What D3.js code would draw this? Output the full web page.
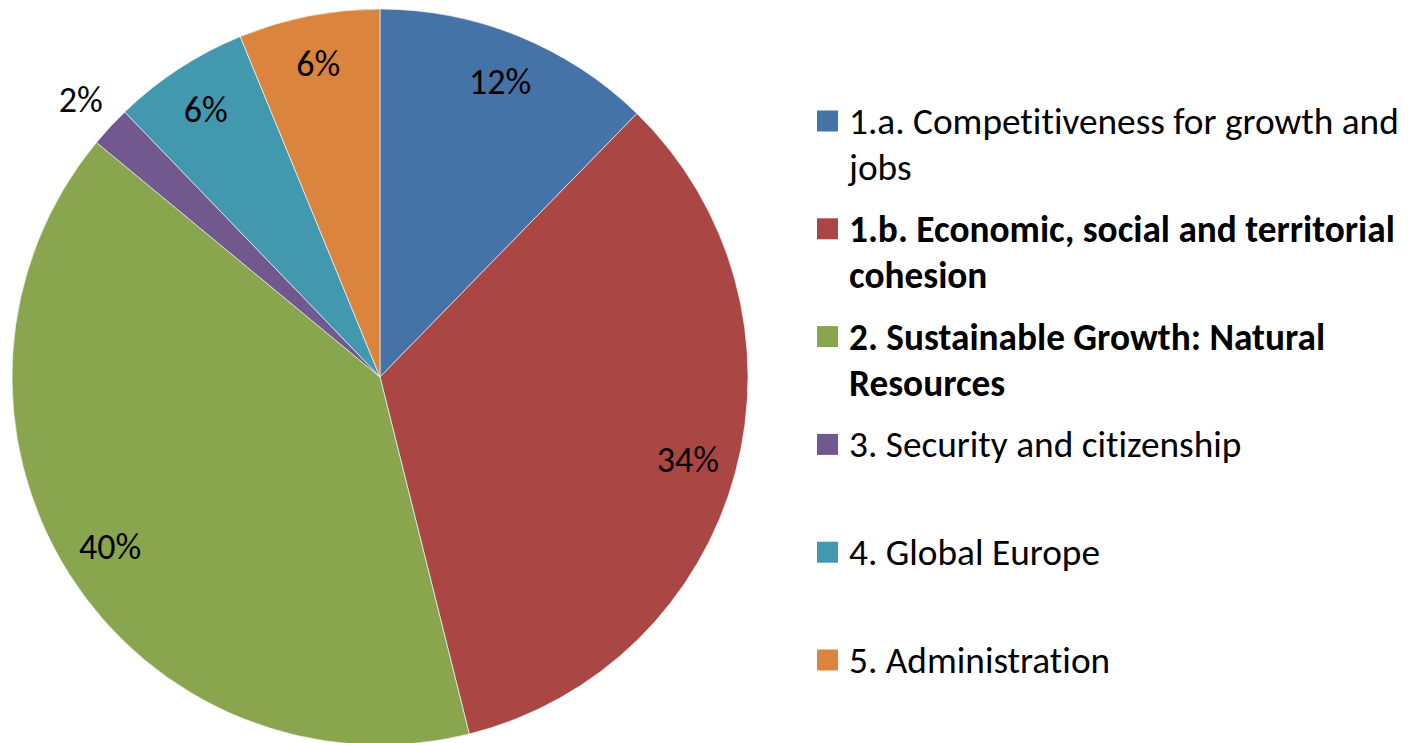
<!DOCTYPE html>
<html>
<head>
<meta charset="utf-8">
<script src="https://cdn.jsdelivr.net/npm/d3@7"></script>
<style>
  html, body { margin: 0; padding: 0; background: #fff; }
  svg { display: block; }
  text { font-family: Carlito, Calibri, "Open Sans", sans-serif; fill: #000; font-variant-ligatures: none; font-feature-settings: "liga" 0, "clig" 0; }
</style>
</head>
<body>
<svg id="chart" width="1411" height="743"></svg>
<script>
// Data
const categories = [
  "1.a. Competitiveness for growth and jobs",
  "1.b. Economic, social and territorial cohesion",
  "2. Sustainable Growth: Natural Resources",
  "3. Security and citizenship",
  "4. Global Europe",
  "5. Administration"
];
const legendLines = [
  ["1.a. Competitiveness for growth and", "jobs"],
  ["1.b. Economic, social and territorial", "cohesion"],
  ["2. Sustainable Growth: Natural", "Resources"],
  ["3. Security and citizenship"],
  ["4. Global Europe"],
  ["5. Administration"]
];
const boldLegend = [false, true, true, false, false, false];
const values = [12.3, 33.8, 39.9, 1.8, 6.0, 6.2];
const colors = ["#4572A7", "#AA4643", "#89A54E", "#71588F", "#4198AF", "#DB843D"];

const svg = d3.select("#chart");
const cx = 380, cy = 377, R = 368;
const labelSize = 36, legendSize = 37.3;

const pie = d3.pie().sort(null).value(d => d)(values);
const arc = d3.arc().innerRadius(0).outerRadius(R);
const color = d3.scaleOrdinal().domain(d3.range(values.length)).range(colors);

const g = svg.append("g").attr("transform", `translate(${cx},${cy})`);
g.selectAll("path.slice").data(pie).join("path")
  .attr("class", "slice")
  .attr("d", arc)
  .attr("fill", (d, i) => color(i))
  .attr("stroke", "#fff")
  .attr("stroke-width", 0.6);

const labelArcIn = d3.arc().innerRadius(319).outerRadius(319);
const labelArcOut = d3.arc().innerRadius(408).outerRadius(408);
g.selectAll("text.lbl").data(pie).join("text")
  .attr("class", "lbl")
  .attr("transform", d => `translate(${(d.value < 3 ? labelArcOut : labelArcIn).centroid(d)})`)
  .attr("text-anchor", "middle")
  .attr("dominant-baseline", "central")
  .style("font-size", labelSize + "px")
  .text(d => d3.format(".0f")(d.value) + "%");

// Legend
const legY = d3.scaleLinear().domain([0, 5]).range([121, 660]);
const lg = svg.append("g");
categories.forEach((c, i) => {
  const y = legY(i);
  lg.append("rect")
    .attr("x", 817).attr("y", y - 10.5).attr("width", 21).attr("height", 21)
    .attr("fill", color(i));
  const t = lg.append("text")
    .attr("x", 849).attr("y", y)
    .attr("dominant-baseline", "central")
    .style("font-size", legendSize + "px")
    .style("font-weight", boldLegend[i] ? "bold" : "normal");
  legendLines[i].forEach((ln, j) => {
    t.append("tspan").attr("x", 849).attr("dy", j === 0 ? 0 : 46).text(ln);
  });
});
</script>
</body>
</html>
